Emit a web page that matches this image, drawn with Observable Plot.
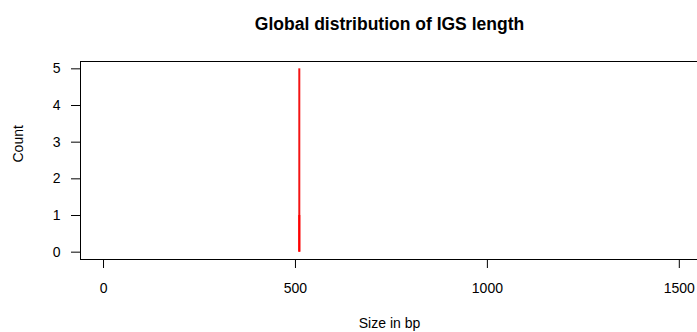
<!DOCTYPE html>
<html><head><meta charset="utf-8">
<script src="https://cdn.jsdelivr.net/npm/d3@7"></script>
<script src="https://cdn.jsdelivr.net/npm/@observablehq/plot@0.6"></script>
<style>html,body{margin:0;padding:0;background:#fff;overflow:hidden}</style>
</head><body><div id="chart"></div>
<script>
const sizes = [510, 510];
const counts = [5, 1];
const seriesColors = ["#f41414", "#ff0000"];
const xTicks = [0, 500, 1000, 1500];
const yTicks = [0, 1, 2, 3, 4, 5];
const titleText = "Global distribution of IGS length";
const xLabel = "Size in bp";
const yLabel = "Count";

const data = sizes.map((s, i) => ({size: s, count: counts[i], color: seriesColors[i]}));
const font = "'Liberation Sans', Arial, Helvetica, sans-serif";

const chart = Plot.plot({
  width: 697, height: 332,
  marginLeft: 80, marginRight: -1, marginTop: 61, marginBottom: 73,
  style: {fontFamily: font, fontSize: "14px", color: "black", background: "white", overflow: "hidden"},
  x: {domain: [-60, 1550]},
  y: {domain: [-0.2, 5.2]},
  color: {type: "identity"},
  marks: [
    Plot.ruleX(data, {x: "size", y1: 0, y2: "count", stroke: "color", strokeWidth: 2}),
    Plot.frame({stroke: "black"}),
    Plot.axisX(xTicks, {tickSize: 9, tickPadding: 15, label: null, tickFormat: d3.format("d"), stroke: "black", fill: "black"}),
    Plot.axisY(yTicks, {tickSize: 9, tickPadding: 11, label: null, tickFormat: d3.format("d"), stroke: "black", fill: "black"}),
    Plot.text([titleText], {text: d => d, frameAnchor: "top", dy: -31.5, lineAnchor: "bottom", fontWeight: "bold", fontSize: 17.5, fill: "black"}),
    Plot.text([xLabel], {text: d => d, frameAnchor: "bottom", dy: 68.5, lineAnchor: "bottom", fontSize: 14, fill: "black"}),
    Plot.text([yLabel], {text: d => d, frameAnchor: "left", dx: -57.5, dy: 2, rotate: -90, lineAnchor: "bottom", fontSize: 14, fill: "black"})
  ]
});
document.getElementById("chart").appendChild(chart);
</script>
</body></html>
